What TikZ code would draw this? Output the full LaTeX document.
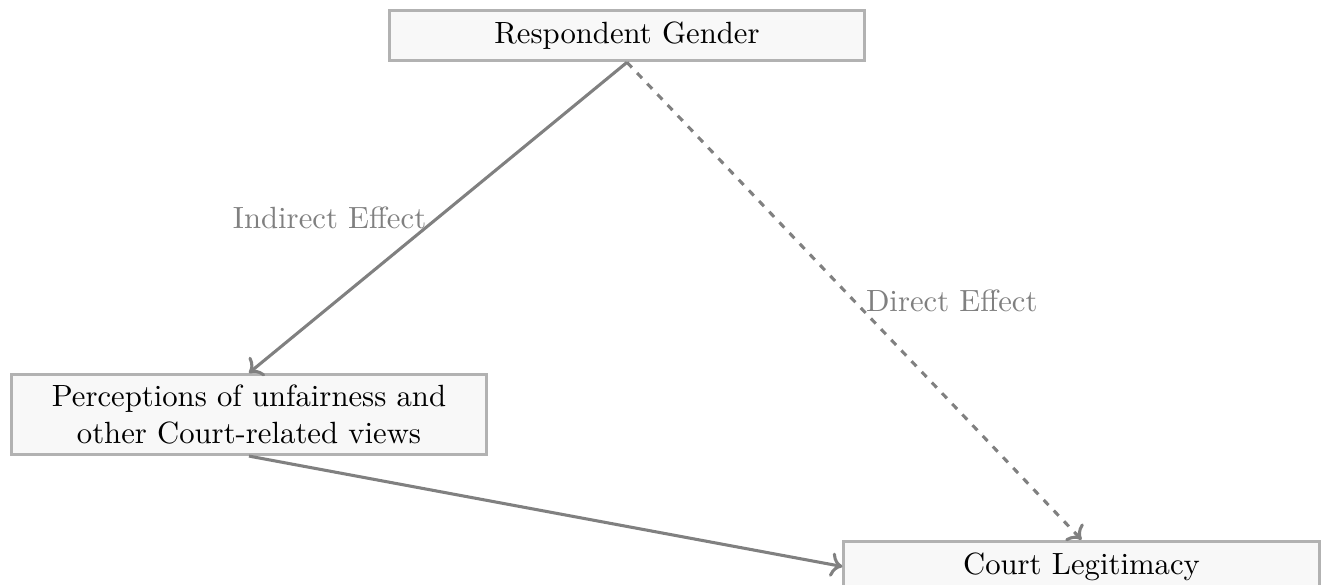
\documentclass[tikz,border=0pt]{standalone}
\usepackage{tikz}
\usetikzlibrary{arrows.meta}
\definecolor{boxline}{RGB}{178, 178, 178}
\definecolor{boxfill}{RGB}{248, 248, 248}
\definecolor{arr}{RGB}{128, 128, 128}

\tikzset{
  box/.style={shape=rectangle,draw=boxline,fill=boxfill,line width=1pt,text width=5.2cm,align=center,inner sep=3.4pt,minimum height=0.58cm},
  link/.style={draw=arr,line width=1pt,->},
  lbl/.style={text=arr,midway}
}

\begin{document}
\begin{tikzpicture}
\useasboundingbox (0,0) rectangle (15.133,-6.685);
\node[box] (G) at (7.177,-0.406) {Respondent Gender};
\node[box] (P) at (2.850,-4.745) {Perceptions of unfairness and other Court-related views};
\node[box] (L) at (12.380,-6.485) {Court Legitimacy};

\path[link] (G.south) -- (P.north) node[lbl,left] {Indirect Effect};
\path[link,dash pattern=on 2.3pt off 2.5pt] (G.south) -- (L.north) node[lbl,right] {Direct Effect};
\path[link] (P.south) -- (L.west);
\end{tikzpicture}
\end{document}
